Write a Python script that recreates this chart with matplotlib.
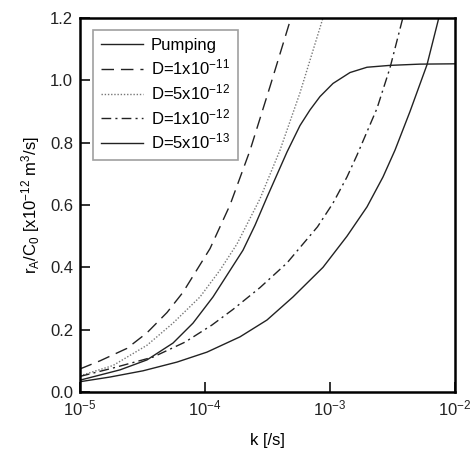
import matplotlib
matplotlib.use("Agg")
import matplotlib.pyplot as plt
import numpy as np
from matplotlib.ticker import FixedLocator, NullLocator, FormatStrFormatter

plt.rcParams['font.family'] = ['Liberation Sans', 'DejaVu Sans']
plt.rcParams['mathtext.default'] = 'regular'

# log10(k) and r_A/C_0 values
pump_logk = [-5.0, -4.68, -4.464, -4.256, -4.096, -3.936, -3.696, -3.6, -3.504, -3.344,
             -3.24, -3.16, -3.08, -2.976, -2.84, -2.704, -2.52, -2.28, -2.0]
pump_val = [0.038, 0.071, 0.103, 0.157, 0.221, 0.305, 0.455, 0.535, 0.625, 0.77,
            0.855, 0.905, 0.948, 0.99, 1.025, 1.042, 1.048, 1.052, 1.053]

d1e11_logk = [-5.0, -4.84, -4.624, -4.464, -4.304, -4.176, -3.96, -3.80, -3.64, -3.48, -3.32, -3.30]
d1e11_val = [0.074, 0.10, 0.14, 0.19, 0.255, 0.32, 0.46, 0.60, 0.775, 0.98, 1.19, 1.21]

d5e12_logk = [-5.0, -4.736, -4.464, -4.256, -4.04, -3.88, -3.744, -3.56, -3.40, -3.24, -3.064, -3.05]
d5e12_val = [0.052, 0.085, 0.15, 0.221, 0.305, 0.391, 0.475, 0.62, 0.776, 0.96, 1.19, 1.21]

d1e12_logk = [-5.0, -4.736, -4.416, -4.16, -3.944, -3.776, -3.56, -3.344, -3.216, -3.1,
              -2.976, -2.864, -2.784, -2.624, -2.52, -2.424, -2.41]
d1e12_val = [0.05, 0.077, 0.112, 0.16, 0.215, 0.265, 0.335, 0.414, 0.475, 0.53,
             0.606, 0.69, 0.76, 0.91, 1.04, 1.19, 1.21]

d5e13_logk = [-5.0, -4.76, -4.496, -4.224, -3.984, -3.72, -3.504, -3.296, -3.056,
              -2.864, -2.704, -2.576, -2.48, -2.36, -2.224, -2.136, -2.125]
d5e13_val = [0.033, 0.048, 0.068, 0.096, 0.128, 0.177, 0.231, 0.305, 0.40,
             0.50, 0.594, 0.69, 0.776, 0.90, 1.05, 1.19, 1.21]

labels = ['Pumping', 'D=1x10$^{-11}$', 'D=5x10$^{-12}$', 'D=1x10$^{-12}$', 'D=5x10$^{-13}$']
x_ticks = [1e-5, 1e-4, 1e-3, 1e-2]
x_ticklabels = ['10$^{-5}$', '10$^{-4}$', '10$^{-3}$', '10$^{-2}$']
y_ticks = [0.0, 0.2, 0.4, 0.6, 0.8, 1.0, 1.2]

fig = plt.figure(figsize=(4.72, 4.5), dpi=100)
ax = fig.add_axes([80/472, 58/450, 375/472, 374/450])

series = [
    (pump_logk, pump_val, dict(color='#222222', lw=1.0, linestyle='-')),
    (d1e11_logk, d1e11_val, dict(color='#222222', lw=1.0, dashes=(9, 5))),
    (d5e12_logk, d5e12_val, dict(color='#777777', lw=1.0, dashes=(1, 1.3))),
    (d1e12_logk, d1e12_val, dict(color='#222222', lw=1.0, dashes=(7, 3, 1.5, 3))),
    (d5e13_logk, d5e13_val, dict(color='#222222', lw=1.0, linestyle='-')),
]
for (lk, v, st), lab in zip(series, labels):
    ax.plot(10 ** np.array(lk), v, label=lab, solid_joinstyle='round',
            dash_joinstyle='round', **st)

ax.set_xscale('log')
ax.set_xlim(1e-5, 1e-2)
ax.set_ylim(0.0, 1.2)
ax.xaxis.set_major_locator(FixedLocator(x_ticks))
ax.xaxis.set_minor_locator(NullLocator())
ax.set_xticklabels(x_ticklabels)
ax.set_yticks(y_ticks)
ax.yaxis.set_major_formatter(FormatStrFormatter('%.1f'))

for s in ax.spines.values():
    s.set_linewidth(1.8)
ax.tick_params(direction='in', length=7, width=1.3, labelsize=12, pad=5, colors='#222222')

ax.set_xlabel('k [/s]', fontsize=12, labelpad=10)
ax.set_ylabel('r$_A$/C$_0$ [x10$^{-12}$ m$^3$/s]', fontsize=12, labelpad=6)

leg = ax.legend(loc='upper left', bbox_to_anchor=(0.035, 0.968), borderaxespad=0,
                fontsize=12, frameon=True, fancybox=False, handlelength=2.5,
                handletextpad=0.45, labelspacing=0.28, borderpad=0.5)
leg.get_frame().set_edgecolor('#888888')
leg.get_frame().set_linewidth(1.2)

fig.savefig('out.png', dpi=100)
